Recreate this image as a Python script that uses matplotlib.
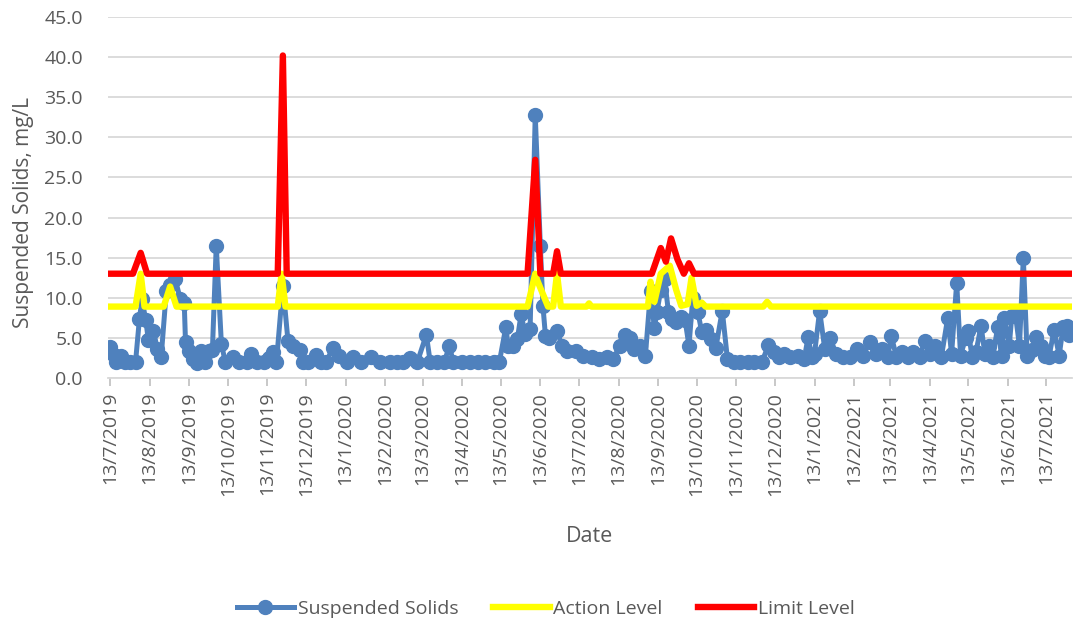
import datetime as dt
import matplotlib
matplotlib.use("Agg")
import matplotlib.pyplot as plt
import matplotlib.dates as mdates
from matplotlib.ticker import FixedLocator, FuncFormatter

# Suspended solids samples (day/month/year)
ss_dates = [
    "13/7/2019", "16/7/2019", "18/7/2019", "22/7/2019", "25/7/2019", "29/7/2019",
    "2/8/2019", "5/8/2019", "7/8/2019", "10/8/2019", "12/8/2019", "16/8/2019",
    "19/8/2019", "22/8/2019", "26/8/2019", "29/8/2019", "2/9/2019", "6/9/2019",
    "9/9/2019", "10/9/2019", "13/9/2019", "16/9/2019", "19/9/2019", "22/9/2019",
    "25/9/2019", "28/9/2019", "1/10/2019", "4/10/2019", "8/10/2019", "11/10/2019",
    "17/10/2019", "22/10/2019", "28/10/2019", "31/10/2019", "5/11/2019", "10/11/2019",
    "14/11/2019", "17/11/2019", "20/11/2019", "25/11/2019", "29/11/2019", "3/12/2019",
    "8/12/2019", "11/12/2019", "15/12/2019", "21/12/2019", "25/12/2019", "29/12/2019",
    "3/1/2020", "8/1/2020", "14/1/2020", "19/1/2020", "25/1/2020", "2/2/2020",
    "9/2/2020", "17/2/2020", "22/2/2020", "27/2/2020", "3/3/2020", "9/3/2020",
    "16/3/2020", "19/3/2020", "24/3/2020", "30/3/2020", "3/4/2020", "6/4/2020",
    "13/4/2020", "19/4/2020", "25/4/2020", "1/5/2020", "8/5/2020", "12/5/2020",
    "17/5/2020", "19/5/2020", "23/5/2020", "26/5/2020", "29/5/2020", "1/6/2020",
    "5/6/2020", "9/6/2020", "13/6/2020", "15/6/2020", "17/6/2020", "20/6/2020",
    "26/6/2020", "30/6/2020", "4/7/2020", "11/7/2020", "16/7/2020", "23/7/2020",
    "29/7/2020", "4/8/2020", "9/8/2020", "14/8/2020", "18/8/2020", "22/8/2020",
    "25/8/2020", "30/8/2020", "3/9/2020", "7/9/2020", "10/9/2020", "12/9/2020",
    "15/9/2020", "18/9/2020", "21/9/2020", "24/9/2020", "27/9/2020", "1/10/2020",
    "4/10/2020", "7/10/2020", "10/10/2020", "14/10/2020", "17/10/2020", "20/10/2020",
    "24/10/2020", "28/10/2020", "2/11/2020", "6/11/2020", "11/11/2020", "16/11/2020",
    "22/11/2020", "27/11/2020", "3/12/2020", "8/12/2020", "12/12/2020", "16/12/2020",
    "20/12/2020", "25/12/2020", "31/12/2020", "5/1/2021", "8/1/2021", "11/1/2021",
    "13/1/2021", "17/1/2021", "21/1/2021", "25/1/2021", "30/1/2021", "4/2/2021",
    "10/2/2021", "15/2/2021", "20/2/2021", "25/2/2021", "2/3/2021", "7/3/2021",
    "11/3/2021", "14/3/2021", "18/3/2021", "22/3/2021", "27/3/2021", "31/3/2021",
    "5/4/2021", "9/4/2021", "13/4/2021", "17/4/2021", "22/4/2021", "27/4/2021",
    "30/4/2021", "4/5/2021", "7/5/2021", "11/5/2021", "13/5/2021", "16/5/2021",
    "19/5/2021", "23/5/2021", "26/5/2021", "29/5/2021", "1/6/2021", "5/6/2021",
    "8/6/2021", "10/6/2021", "14/6/2021", "16/6/2021", "19/6/2021", "22/6/2021",
    "25/6/2021", "28/6/2021", "2/7/2021", "5/7/2021", "9/7/2021", "12/7/2021",
    "15/7/2021", "19/7/2021", "23/7/2021", "26/7/2021", "29/7/2021", "31/7/2021",
]
ss_values = [
    3.9, 2.9, 2.0, 2.8, 2.0, 2.0,
    2.0, 7.3, 9.8, 7.2, 4.7, 5.9,
    3.6, 2.6, 10.8, 11.6, 12.3, 9.8,
    9.4, 4.5, 3.4, 2.4, 1.9, 3.4,
    2.0, 3.4, 3.5, 16.5, 4.3, 2.0,
    2.6, 2.0, 2.0, 3.0, 2.0, 2.0,
    2.5, 3.2, 2.0, 11.5, 4.6, 4.0,
    3.5, 2.0, 2.0, 2.9, 2.0, 2.0,
    3.8, 2.8, 2.0, 2.6, 2.0, 2.6,
    2.0, 2.0, 2.0, 2.0, 2.5, 2.0,
    5.4, 2.0, 2.0, 2.0, 4.0, 2.0,
    2.0, 2.0, 2.0, 2.0, 2.0, 2.0,
    6.3, 4.0, 4.0, 4.8, 8.0, 5.5,
    6.1, 32.8, 16.4, 9.0, 5.2, 5.0,
    5.8, 4.0, 3.4, 3.4, 2.7, 2.6,
    2.4, 2.6, 2.4, 4.0, 5.4, 5.0,
    3.6, 4.0, 2.8, 10.9, 6.2, 8.2,
    11.0, 12.3, 8.2, 7.3, 7.0, 7.6,
    7.2, 4.0, 10.0, 8.2, 5.7, 6.0,
    4.8, 3.8, 8.4, 2.4, 2.0, 2.0,
    2.0, 2.0, 2.0, 4.1, 3.2, 2.6,
    3.0, 2.6, 2.8, 2.4, 5.1, 2.6,
    3.0, 8.4, 3.6, 5.0, 3.0, 2.6,
    2.6, 3.6, 2.8, 4.5, 3.0, 3.6,
    2.6, 5.2, 2.6, 3.2, 2.6, 3.2,
    2.6, 4.6, 3.0, 4.0, 2.6, 7.5,
    3.0, 11.9, 2.8, 5.0, 5.9, 2.6,
    3.2, 6.5, 3.0, 4.0, 2.6, 6.3,
    2.8, 7.5, 4.0, 7.7, 7.7, 4.0,
    15.0, 2.8, 3.5, 5.1, 4.0, 2.8,
    2.6, 6.0, 2.8, 6.3, 6.5, 5.3,
]

# Action level: flat with a few raised points
action_dates = [
    "13/7/2019", "2/8/2019", "6/8/2019", "9/8/2019", "24/8/2019", "29/8/2019",
    "3/9/2019", "21/11/2019", "24/11/2019", "27/11/2019", "3/6/2020", "9/6/2020",
    "10/6/2020", "19/6/2020", "23/6/2020", "26/6/2020", "29/6/2020", "19/7/2020",
    "21/7/2020", "23/7/2020", "5/9/2020", "7/9/2020", "10/9/2020", "15/9/2020",
    "22/9/2020", "27/9/2020", "1/10/2020", "6/10/2020", "9/10/2020", "13/10/2020",
    "17/10/2020", "20/10/2020", "24/10/2020", "4/12/2020", "7/12/2020", "10/12/2020",
    "31/7/2021",
]
action_values = [
    8.9, 8.9, 13.0, 8.9, 8.9, 11.4,
    8.9, 8.9, 13.0, 8.9, 8.9, 13.0,
    12.4, 8.9, 8.9, 13.0, 8.9, 8.9,
    9.3, 8.9, 8.9, 12.0, 9.5, 13.0,
    14.0, 11.0, 9.0, 9.2, 12.5, 9.0,
    9.4, 8.9, 8.9, 8.9, 9.5, 8.9,
    8.9,
]

# Limit level: flat with spikes
limit_dates = [
    "13/7/2019", "31/7/2019", "6/8/2019", "11/8/2019", "21/11/2019", "25/11/2019",
    "28/11/2019", "3/6/2020", "9/6/2020", "13/6/2020", "23/6/2020", "26/6/2020",
    "29/6/2020", "8/9/2020", "15/9/2020", "19/9/2020", "23/9/2020", "28/9/2020",
    "3/10/2020", "7/10/2020", "11/10/2020", "31/7/2021",
]
limit_values = [
    13.0, 13.0, 15.6, 13.0, 13.0, 40.2,
    13.0, 13.0, 27.2, 13.0, 13.0, 15.8,
    13.0, 13.0, 16.2, 14.5, 17.4, 14.8,
    13.0, 14.3, 13.0, 13.0,
]

tick_dates = [
    "13/7/2019", "13/8/2019", "13/9/2019", "13/10/2019", "13/11/2019", "13/12/2019",
    "13/1/2020", "13/2/2020", "13/3/2020", "13/4/2020", "13/5/2020", "13/6/2020",
    "13/7/2020", "13/8/2020", "13/9/2020", "13/10/2020", "13/11/2020", "13/12/2020",
    "13/1/2021", "13/2/2021", "13/3/2021", "13/4/2021", "13/5/2021", "13/6/2021",
    "13/7/2021",
]


def to_num(dates):
    return [mdates.date2num(dt.datetime.strptime(d, "%d/%m/%Y")) for d in dates]


def fmt_date(v, pos):
    d = mdates.num2date(v)
    return f"{d.day}/{d.month}/{d.year}"


plt.rcParams["font.family"] = ["Open Sans", "DejaVu Sans"]
grey = "#595959"

fig = plt.figure(figsize=(10.74, 6.29), dpi=100)
ax = fig.add_axes([108 / 1074, 1 - 378 / 629, (1072 - 108) / 1074, (378 - 17) / 629])

ax.plot(to_num(ss_dates), ss_values, color="#4F81BD", lw=3.6, marker="o", ms=10,
        solid_joinstyle="round", label="Suspended Solids", zorder=3)
ax.plot(to_num(action_dates), action_values, color="#FFFF00", lw=4.6,
        solid_joinstyle="round", label="Action Level", zorder=4)
ax.plot(to_num(limit_dates), limit_values, color="#FF0000", lw=4.6,
        solid_joinstyle="round", label="Limit Level", zorder=5)

x0 = to_num(["13/7/2019"])[0]
ax.set_xlim(x0 - 1.5, x0 + 751)
ax.set_ylim(0, 45)
ax.set_yticks([i * 5 for i in range(10)])
ax.yaxis.set_major_formatter(FuncFormatter(lambda v, p: f"{v:.1f}"))

ax.xaxis.set_major_locator(FixedLocator(to_num(tick_dates)))
ax.xaxis.set_major_formatter(FuncFormatter(fmt_date))
ax.tick_params(axis="x", labelrotation=90, colors="#BFBFBF", labelcolor=grey,
               labelsize=14, length=6, width=1.2, pad=4)
ax.tick_params(axis="y", length=0, labelcolor=grey, labelsize=14, pad=18)

ax.grid(axis="y", color="#D9D9D9", lw=1.3)
ax.set_axisbelow(True)
for s in ["top", "right", "left"]:
    ax.spines[s].set_visible(False)
ax.spines["bottom"].set_color("#D9D9D9")
ax.spines["bottom"].set_linewidth(1.3)

fig.text(23 / 1074, 1 - 212 / 629, "Suspended Solids, mg/L", rotation=90,
         ha="center", va="center", color=grey, fontsize=15)
fig.text(590 / 1074, 1 - 537 / 629, "Date", ha="center", va="center",
         color=grey, fontsize=15.5)

fig.legend(loc="center", bbox_to_anchor=(546 / 1074, 1 - 609 / 629), ncol=3,
           frameon=False, fontsize=14, labelcolor=grey, handlelength=2.9,
           handletextpad=0.2, columnspacing=1.8)

fig.savefig("out.png", dpi=100)
